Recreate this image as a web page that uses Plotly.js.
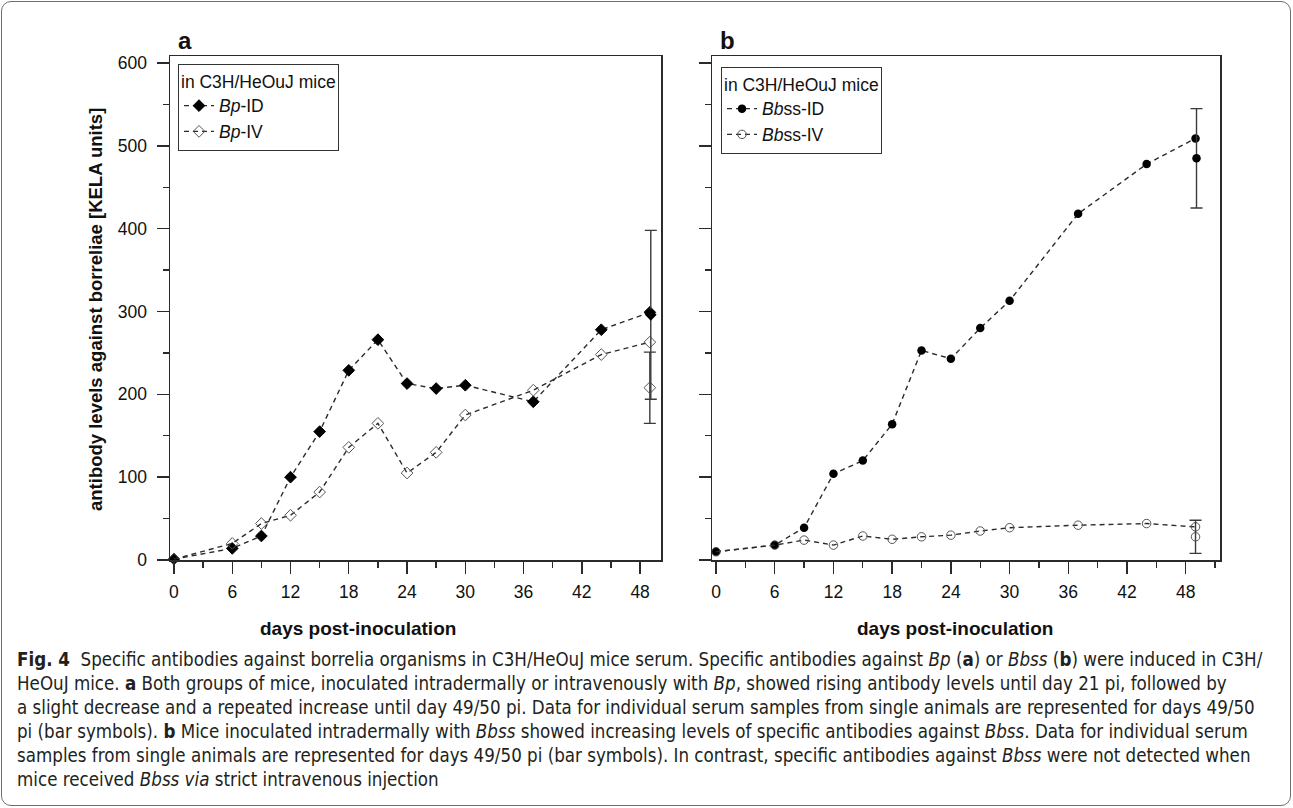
<!DOCTYPE html>
<html>
<head>
<meta charset="utf-8">
<script src="https://cdn.plot.ly/plotly-3.0.1.min.js"></script>
<style>
html,body{margin:0;padding:0;background:#fff;overflow:hidden;}
#frame{position:absolute;left:1px;top:1px;width:1290px;height:805px;box-sizing:border-box;border:1px solid #6d6e71;border-radius:10px;}
#chart{position:absolute;left:0;top:0;width:1293px;height:808px;}
</style>
</head>
<body>
<div id="frame"></div>
<div id="chart"></div>
<script>
// ---- data ----
const days = [0, 6, 9, 12, 15, 18, 21, 24, 27, 30, 37, 44, 49];
const bpID = [1, 14, 29, 100, 155, 229, 266, 213, 207, 211, 191, 278, 299];
const bpIV = [1, 20, 44, 54, 82, 136, 165, 105, 130, 175, 205, 248, 263];
const bbssID = [10, 18, 39, 104, 120, 164, 253, 243, 280, 313, 418, 478, 509];
const bbssIV = [10, 18, 24, 18, 29, 25, 28, 30, 35, 39, 42, 44, 40];
// individual samples at day 49/50 (bar symbols)
const indDayID = [49.1];
const indDayIV = [49];
const bpIDind = [296], bpIDerr = [102];
const bpIVind = [208], bpIVerr = [43];
const bbssIDind = [485], bbssIDerr = [60];
const bbssIVind = [28], bbssIVerr = [20];
const xTicks = [0, 6, 12, 18, 24, 30, 36, 42, 48];
const yTicks = [0, 100, 200, 300, 400, 500, 600];

const F = '"Liberation Sans", Arial, sans-serif';
const CAP = '"Liberation Sans Narrow", "DejaVu Sans Condensed", "Liberation Sans", sans-serif';
const lineC = '#2b2b2b';
const dashLine = {color: lineC, width: 1.4, dash: '5px,4px'};

function errBar(arr){
  return {type: 'data', array: arr, visible: true, width: 6, thickness: 1.4, color: '#3a3a3a'};
}

const traces = [
  {x: days, y: bpID, xaxis: 'x', yaxis: 'y', mode: 'lines+markers', name: '<i>Bp</i>-ID',
   line: dashLine, marker: {symbol: 'diamond', size: 9, color: '#000', line: {color: '#000', width: 1}}, cliponaxis: false, legend: 'legend'},
  {x: days, y: bpIV, xaxis: 'x', yaxis: 'y', mode: 'lines+markers', name: '<i>Bp</i>-IV',
   line: dashLine, marker: {symbol: 'diamond-open', size: 9, color: '#555', line: {color: '#555', width: 1}}, cliponaxis: false, legend: 'legend'},
  {x: indDayIV, y: bpIVind, xaxis: 'x', yaxis: 'y', mode: 'markers', showlegend: false,
   marker: {symbol: 'diamond-open', size: 9, color: '#555'}, error_y: errBar(bpIVerr), cliponaxis: false},
  {x: indDayID, y: bpIDind, xaxis: 'x', yaxis: 'y', mode: 'markers', showlegend: false,
   marker: {symbol: 'diamond', size: 9, color: '#000'}, error_y: errBar(bpIDerr), cliponaxis: false},
  {x: days, y: bbssID, xaxis: 'x2', yaxis: 'y2', mode: 'lines+markers', name: '<i>Bb</i>ss-ID',
   line: dashLine, marker: {symbol: 'circle', size: 8.5, color: '#000'}, cliponaxis: false, legend: 'legend2'},
  {x: days, y: bbssIV, xaxis: 'x2', yaxis: 'y2', mode: 'lines+markers', name: '<i>Bb</i>ss-IV',
   line: dashLine, marker: {symbol: 'circle-open', size: 8.5, color: '#555', line: {width: 1}}, cliponaxis: false, legend: 'legend2'},
  {x: indDayID, y: bbssIDind, xaxis: 'x2', yaxis: 'y2', mode: 'markers', showlegend: false,
   marker: {symbol: 'circle', size: 8.5, color: '#000'}, error_y: errBar(bbssIDerr), cliponaxis: false},
  {x: indDayIV, y: bbssIVind, xaxis: 'x2', yaxis: 'y2', mode: 'markers', showlegend: false,
   marker: {symbol: 'circle-open', size: 8.5, color: '#555'}, error_y: errBar(bbssIVerr), cliponaxis: false}
];

const W = 1293, H = 808;
const px = v => v / W, py = v => 1 - v / H;

function xAx(domain, range){
  return {domain: domain, range: range, tickvals: xTicks, ticktext: xTicks.map(String),
    showline: true, linecolor: lineC, linewidth: 1.5, mirror: true, ticks: 'outside', ticklen: 12,
    tickwidth: 1.4, tickcolor: lineC, showgrid: false, zeroline: false,
    minor: {tickvals: [3, 9, 15, 21, 27, 33, 39, 45, 51], ticks: 'outside', ticklen: 6, tickwidth: 1.4, tickcolor: lineC},
    tickfont: {family: F, size: 17.5, color: '#111'}, ticklabelstandoff: 3, fixedrange: true};
}
function yAx(anchor, showLabels){
  return {anchor: anchor, domain: [py(560), py(56)], range: [0, 608.5], tickvals: yTicks, ticktext: yTicks.map(String),
    showticklabels: showLabels,
    showline: true, linecolor: lineC, linewidth: 1.5, mirror: true, ticks: 'outside', ticklen: 12,
    tickwidth: 1.4, tickcolor: lineC, showgrid: false, zeroline: false,
    minor: {dtick: 50, ticks: 'outside', ticklen: 6, tickwidth: 1.4, tickcolor: lineC},
    tickfont: {family: F, size: 17.5, color: '#111'}, ticklabelstandoff: 6, fixedrange: true};
}

const captionLines = [
  '<b>Fig. 4</b>  Specific antibodies against borrelia organisms in C3H/HeOuJ mice serum. Specific antibodies against <i>Bp</i> (<b>a</b>) or <i>Bbss</i> (<b>b</b>) were induced in C3H/',
  'HeOuJ mice. <b>a</b> Both groups of mice, inoculated intradermally or intravenously with <i>Bp</i>, showed rising antibody levels until day 21 pi, followed by',
  'a slight decrease and a repeated increase until day 49/50 pi. Data for individual serum samples from single animals are represented for days 49/50',
  'pi (bar symbols). <b>b</b> Mice inoculated intradermally with <i>Bbss</i> showed increasing levels of specific antibodies against <i>Bbss</i>. Data for individual serum',
  'samples from single animals are represented for days 49/50 pi (bar symbols). In contrast, specific antibodies against <i>Bbss</i> were not detected when',
  'mice received <i>Bbss via</i> strict intravenous injection'
];
const capY = [659, 683, 707, 731, 755, 779];

const annotations = [
  {text: '<b>a</b>', x: px(176), y: py(40), xref: 'paper', yref: 'paper', xanchor: 'left', yanchor: 'middle', showarrow: false, font: {family: F, size: 24, color: '#111'}},
  {text: '<b>b</b>', x: px(718), y: py(40), xref: 'paper', yref: 'paper', xanchor: 'left', yanchor: 'middle', showarrow: false, font: {family: F, size: 24, color: '#111'}},
  {text: '<b>days post-inoculation</b>', x: px(358), y: py(628), xref: 'paper', yref: 'paper', xanchor: 'center', yanchor: 'middle', showarrow: false, font: {family: F, size: 19, color: '#111'}},
  {text: '<b>days post-inoculation</b>', x: px(955), y: py(628), xref: 'paper', yref: 'paper', xanchor: 'center', yanchor: 'middle', showarrow: false, font: {family: F, size: 19, color: '#111'}},
  {text: '<b>antibody levels against borreliae [KELA units]</b>', x: px(95), y: py(310), xref: 'paper', yref: 'paper', xanchor: 'center', yanchor: 'middle', textangle: -90, showarrow: false, font: {family: F, size: 18.5, color: '#111'}}
];
captionLines.forEach((t, i) => {
  annotations.push({text: t, x: px(15), y: py(capY[i]), xref: 'paper', yref: 'paper', xanchor: 'left', yanchor: 'middle', showarrow: false, align: 'left', font: {family: CAP, size: 18.6, color: '#231f20'}});
});

function leg(x, y){
  return {x: px(x), y: py(y), xref: 'paper', yref: 'paper', xanchor: 'left', yanchor: 'top',
    bgcolor: '#fff', bordercolor: '#333', borderwidth: 1, font: {family: F, size: 17.5, color: '#111'},
    title: {text: 'in C3H/HeOuJ mice', font: {family: F, size: 17.5, color: '#111'}}, tracegroupgap: 0, itemwidth: 30};
}

const layout = {
  width: W, height: H, margin: {l: 0, r: 0, t: 0, b: 0},
  paper_bgcolor: 'rgba(0,0,0,0)', plot_bgcolor: '#fff',
  xaxis: Object.assign(xAx([px(170), px(661)], [-0.41, 50.15]), {anchor: 'y'}),
  yaxis: yAx('x', true),
  xaxis2: Object.assign(xAx([px(712), px(1220)], [-0.41, 51.5]), {anchor: 'y2'}),
  yaxis2: yAx('x2', false),
  legend: leg(178, 64),
  legend2: leg(721, 67),
  annotations: annotations,
  showlegend: true
};

Plotly.newPlot('chart', traces, layout, {displayModeBar: false, staticPlot: true});
</script>
</body>
</html>
